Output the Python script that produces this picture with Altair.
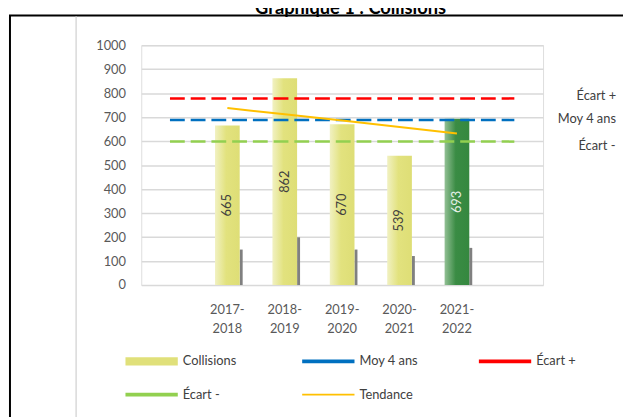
import altair as alt
import pandas as pd

# ---- data ----
periodes = ["2017-2018", "2018-2019", "2019-2020", "2020-2021", "2021-2022"]
collisions = [665, 862, 670, 539, 693]
secondaire = [148, 199, 148, 121, 155]
tendance = [738, 712, 686, 659, 632]
ref_noms = ["Écart +", "Moy 4 ans", "Écart -"]
ref_valeurs = [778, 688, 598]
series = ["Collisions", "Moy 4 ans", "Écart +", "Écart -", "Tendance"]
couleurs = ["#E0E07A", "#0070C0", "#FF0000", "#92D050", "#FFC000"]
titre = "Graphique 1 : Collisions"

domaine_x = ["debut"] + periodes + ["fin"]
FONT = "Lato"

df_bars = pd.DataFrame({"periode": periodes, "valeur": collisions,
                        "sec": secondaire})
df_tend = pd.DataFrame({"periode": periodes, "valeur": tendance})
df_ref = pd.DataFrame({"serie": ref_noms, "valeur": ref_valeurs,
                       "couleur": [couleurs[series.index(n)] for n in ref_noms],
                       "x1": ["debut"] * 3, "x2": ["fin"] * 3})
df_series = pd.DataFrame({"serie": series})

xscale = alt.Scale(domain=domaine_x, paddingInner=0.57, paddingOuter=0.285)
yscale = alt.Scale(domain=[0, 1000], nice=False)

xaxis = alt.Axis(title=None, domain=False, ticks=False, grid=False, labelAngle=0,
                 labelFont=FONT, labelFontSize=13, labelColor="#595959",
                 labelPadding=19, labelLineHeight=19, labelBaseline="top",
                 labelExpr="datum.value == 'debut' || datum.value == 'fin' ? '' : "
                           "[slice(datum.value, 0, 5), slice(datum.value, 5)]")
yaxis = alt.Axis(title=None, domain=False, ticks=False, grid=True,
                 gridColor="#D9D9D9", gridWidth=1.5, format="d",
                 values=list(range(0, 1001, 100)), labelFont=FONT,
                 labelFontSize=13, labelColor="#595959", labelPadding=16)


def xe(field):
    return alt.X(field + ":N", scale=xscale, axis=xaxis, sort=domaine_x)


def ye(field):
    return alt.Y(field + ":Q", scale=yscale, axis=yaxis)


base_bars = alt.Chart(df_bars)

gris = base_bars.mark_bar(width=3, xOffset=14, color="#808080").encode(
    x=xe("periode"), y=ye("sec"))

grad_jaune = alt.Gradient(gradient="linear", x1=0, x2=1, y1=0, y2=0,
                          stops=[alt.GradientStop(offset=0, color="#F1F1C2"),
                                 alt.GradientStop(offset=0.45, color="#E2E27E"),
                                 alt.GradientStop(offset=1, color="#DEDE76")])
grad_vert = alt.Gradient(gradient="linear", x1=0, x2=1, y1=0, y2=0,
                         stops=[alt.GradientStop(offset=0, color="#93C095"),
                                alt.GradientStop(offset=0.45, color="#3A8C44"),
                                alt.GradientStop(offset=1, color="#35883F")])

derniere = f"datum.periode == '{periodes[-1]}'"
barres_j = base_bars.transform_filter("!(" + derniere + ")").mark_bar(
    fill=grad_jaune).encode(x=xe("periode"), y=ye("valeur"))
barres_v = base_bars.transform_filter(derniere).mark_bar(
    fill=grad_vert).encode(x=xe("periode"), y=ye("valeur"))

labels = base_bars.transform_calculate(mid="datum.valeur / 2").mark_text(
    angle=270, font=FONT, fontSize=13, align="center", baseline="middle"
).encode(
    x=xe("periode"), y=ye("mid"), text="valeur:Q",
    color=alt.condition(derniere, alt.value("#E6F0E6"), alt.value("#404040")))

regles = alt.Chart(df_ref).mark_rule(strokeDash=[15, 6], strokeWidth=2.5).encode(
    x=xe("x1"), x2="x2:N", y=ye("valeur"),
    color=alt.Color("couleur:N", scale=None))

decal = {"Écart +": (63, -2), "Moy 4 ans": (44, -1), "Écart -": (65, 5)}
textes_ref = []
for nom in ref_noms:
    dx, dy = decal[nom]
    textes_ref.append(
        alt.Chart(df_ref).transform_filter(f"datum.serie == '{nom}'").mark_text(
            align="left", baseline="middle", dx=dx, dy=dy, font=FONT,
            fontSize=13, color="#404040").encode(
            x=xe("x2"), y=ye("valeur"), text="serie:N"))

tend = alt.Chart(df_tend).mark_line(strokeWidth=2, color=couleurs[4]).encode(
    x=xe("periode"), y=ye("valeur"))

# legend carrier (no visible marks, legend built from the explicit domain)
formes = ["M-1,-0.16 H1 V0.16 H-1 Z",
          "M-1,-0.07 H1 V0.07 H-1 Z",
          "M-1,-0.07 H1 V0.07 H-1 Z",
          "M-1,-0.07 H1 V0.07 H-1 Z",
          "M-1,-0.035 H1 V0.035 H-1 Z"]
leg = alt.Legend(title=None, orient="none", legendX=-16, legendY=293.5,
                 columns=3, direction="horizontal",
                 gridAlign="all", symbolSize=2809, symbolStrokeWidth=0,
                 columnPadding=61, rowPadding=-30.5,
                 labelFont=FONT, labelFontSize=13, labelColor="#404040",
                 labelOffset=5, padding=0)
porteur = alt.Chart(df_series).transform_filter("false").mark_point(
    filled=True, size=2809, opacity=1).encode(
    color=alt.Color("serie:N", scale=alt.Scale(domain=series, range=couleurs),
                    legend=leg),
    shape=alt.Shape("serie:N", scale=alt.Scale(domain=series, range=formes),
                    legend=leg))

# decorative frame and title
deco = alt.Chart(pd.DataFrame({"a": [0]}))
cadre = deco.mark_rect(fill="transparent", stroke="black", strokeWidth=2).encode(
    x=alt.value(-133), x2=alt.value(800), y=alt.value(-30), y2=alt.value(600))
sep = deco.mark_rule(color="#D9D9D9", strokeWidth=1.5).encode(
    x=alt.value(-66), y=alt.value(-29), y2=alt.value(600))
titre_m = deco.mark_text(font=FONT, fontSize=18.5, fontWeight="bold",
                         align="center", baseline="alphabetic",
                         color="#000000").encode(
    x=alt.value(212), y=alt.value(-32), text=alt.value(titre))

chart = alt.layer(cadre, sep, titre_m, gris, barres_j, barres_v, labels, regles,
                  *textes_ref, tend, porteur).properties(
    width=407, height=243,
    autosize=alt.AutoSizeParams(type="none"),
    padding={"left": 135, "top": 35, "right": 81, "bottom": 131},
).configure_view(strokeWidth=0).configure(background="white")

chart.save("out.html", embed_options={"renderer": "svg", "actions": False})
